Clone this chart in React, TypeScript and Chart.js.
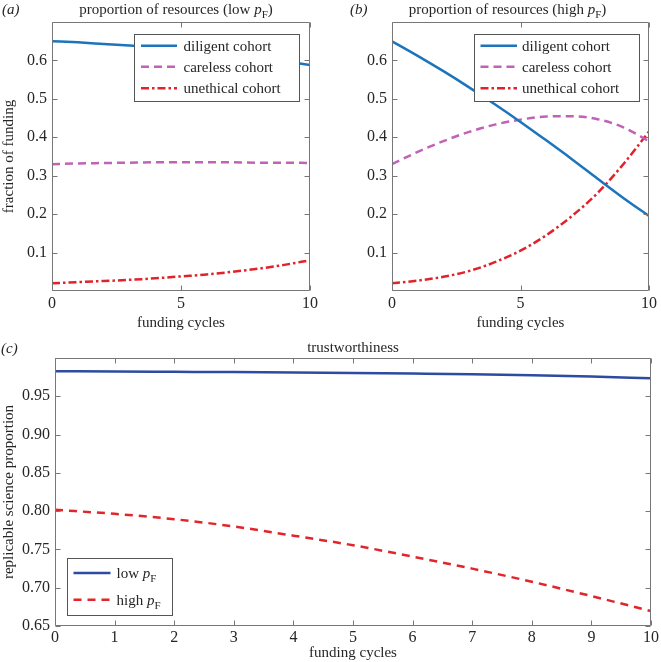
import React, { useEffect, useRef } from 'react';
import { Chart, registerables } from 'chart.js';
Chart.register(...registerables);

// ---------------- data ----------------
const cycles = [0, 1, 2, 3, 4, 5, 6, 7, 8, 9, 10];

const lowDiligent = [0.650, 0.647, 0.643, 0.639, 0.634, 0.628, 0.622, 0.615, 0.607, 0.598, 0.588];
const lowCareless = [0.330, 0.332, 0.333, 0.334, 0.335, 0.335, 0.335, 0.335, 0.334, 0.334, 0.333];
const lowUnethical = [0.020, 0.023, 0.026, 0.029, 0.033, 0.038, 0.043, 0.050, 0.058, 0.068, 0.080];

const highDiligent = [0.650, 0.612, 0.572, 0.530, 0.486, 0.440, 0.392, 0.343, 0.292, 0.242, 0.195];
const highCareless = [0.330, 0.362, 0.390, 0.414, 0.433, 0.446, 0.454, 0.455, 0.447, 0.426, 0.390];
const highUnethical = [0.020, 0.027, 0.037, 0.052, 0.075, 0.105, 0.145, 0.195, 0.255, 0.330, 0.415];

const trustLow = [0.9827, 0.9824, 0.9820, 0.9816, 0.9811, 0.9805, 0.9797, 0.9788, 0.9775, 0.9758, 0.9736];
const trustHigh = [0.8017, 0.7965, 0.7895, 0.7800, 0.7680, 0.7555, 0.7406, 0.7249, 0.7078, 0.6891, 0.6695];

const resourceXTicks = [0, 5, 10];
const resourceYTicks = [0.1, 0.2, 0.3, 0.4, 0.5, 0.6];
const trustXTicks = [0, 1, 2, 3, 4, 5, 6, 7, 8, 9, 10];
const trustYTicks = [0.65, 0.7, 0.75, 0.8, 0.85, 0.9, 0.95, 1.0];

const cohortLabels = ['diligent cohort', 'careless cohort', 'unethical cohort'];

// ---------------- style ----------------
const SERIF = '"Liberation Serif", "Times New Roman", Times, serif';
const TEXT = '#262626';
const AXIS = '#777777';
const C_DILIGENT = '#1C75BC';
const C_CARELESS = '#C062B6';
const C_UNETHICAL = '#E0232B';
const C_LOW = '#2D4BA0';
const C_HIGH = '#E0252B';
const DASH_CARELESS = [8, 5];
const DASH_UNETHICAL = [8, 3, 2.5, 3];
const DASH_HIGH = [8, 6];

type Seg = { t: string; i?: boolean; sub?: boolean };

function segFont(s: Seg, size: number) {
  const sz = s.sub ? Math.round(size * 0.72) : size;
  return `${s.i ? 'italic ' : ''}${sz}px ${SERIF}`;
}

function drawRich(ctx: CanvasRenderingContext2D, segs: Seg[], x: number, y: number, size: number, align: 'left' | 'center') {
  ctx.save();
  ctx.textBaseline = 'alphabetic';
  ctx.textAlign = 'left';
  ctx.fillStyle = TEXT;
  let w = 0;
  for (const s of segs) {
    ctx.font = segFont(s, size);
    w += ctx.measureText(s.t).width;
  }
  let cx = align === 'center' ? x - w / 2 : x;
  for (const s of segs) {
    ctx.font = segFont(s, size);
    ctx.fillText(s.t, cx, s.sub ? y + size * 0.28 : y);
    cx += ctx.measureText(s.t).width;
  }
  ctx.restore();
}

const series = (arr: number[]) => cycles.map((c, i) => ({ x: c, y: arr[i] }));

const boxPlugin = {
  id: 'matlabBox',
  afterDatasetsDraw(chart: any) {
    const { ctx, chartArea } = chart;
    const xs = chart.scales.x;
    const ys = chart.scales.y;
    const L = Math.round(chartArea.left) + 0.5;
    const R = Math.round(chartArea.right) - 0.5;
    const T = Math.round(chartArea.top) + 0.5;
    const B = Math.round(chartArea.bottom) - 0.5;
    ctx.save();
    ctx.strokeStyle = AXIS;
    ctx.lineWidth = 1;
    ctx.setLineDash([]);
    ctx.beginPath();
    ctx.rect(L, T, R - L, B - T);
    const tl = 5;
    xs.ticks.forEach((t: any) => {
      const px = Math.round(xs.getPixelForValue(t.value)) + 0.5;
      ctx.moveTo(px, B);
      ctx.lineTo(px, B - tl);
      ctx.moveTo(px, T);
      ctx.lineTo(px, T + tl);
    });
    ys.ticks.forEach((t: any) => {
      const py = Math.round(ys.getPixelForValue(t.value)) + 0.5;
      ctx.moveTo(L, py);
      ctx.lineTo(L + tl, py);
      ctx.moveTo(R, py);
      ctx.lineTo(R - tl, py);
    });
    ctx.stroke();
    ctx.restore();
  },
};

type LegendCfg = {
  anchor: 'topRight' | 'bottomLeft';
  dx: number;
  dy: number;
  w: number;
  h: number;
  lineInset: number;
  lineLen: number;
  textInset: number;
  rowOffsets: number[];
  items: Seg[][];
};

type DecorCfg = {
  panel: string;
  panelX: number;
  panelY: number;
  title: Seg[];
  titleDx: number;
  titleY: number;
  legend: LegendCfg;
};

function decorPlugin(cfg: DecorCfg) {
  return {
    id: 'decor',
    afterDraw(chart: any) {
      const { ctx, chartArea } = chart;
      drawRich(ctx, [{ t: cfg.panel, i: true }], cfg.panelX, cfg.panelY, 15, 'left');
      const cx = (chartArea.left + chartArea.right) / 2 + cfg.titleDx;
      drawRich(ctx, cfg.title, cx, cfg.titleY, 15, 'center');
      const lg = cfg.legend;
      const bx = lg.anchor === 'topRight' ? chartArea.right - lg.dx - lg.w : chartArea.left + lg.dx;
      const by = lg.anchor === 'topRight' ? chartArea.top + lg.dy : chartArea.bottom - lg.dy - lg.h;
      ctx.save();
      ctx.fillStyle = '#ffffff';
      ctx.fillRect(bx, by, lg.w, lg.h);
      ctx.strokeStyle = '#555555';
      ctx.lineWidth = 1;
      ctx.setLineDash([]);
      ctx.strokeRect(Math.round(bx) + 0.5, Math.round(by) + 0.5, lg.w, lg.h);
      lg.items.forEach((segs, i) => {
        const ds = chart.data.datasets[i];
        const ry = by + lg.rowOffsets[i];
        ctx.save();
        ctx.strokeStyle = ds.borderColor;
        ctx.lineWidth = ds.borderWidth || 2.5;
        ctx.setLineDash(ds.borderDash || []);
        ctx.beginPath();
        ctx.moveTo(bx + lg.lineInset, ry);
        ctx.lineTo(bx + lg.lineInset + lg.lineLen, ry);
        ctx.stroke();
        ctx.restore();
        drawRich(ctx, segs, bx + lg.textInset, ry + 5, 15, 'left');
      });
      ctx.restore();
    },
  };
}

const tickFont = { family: SERIF, size: 16 };
const titleFont = { family: SERIF, size: 15 };

function resourceConfig(kind: 'low' | 'high', yWidth: number, padRight: number, decor: DecorCfg) {
  const dil = kind === 'low' ? lowDiligent : highDiligent;
  const car = kind === 'low' ? lowCareless : highCareless;
  const une = kind === 'low' ? lowUnethical : highUnethical;
  return {
    type: 'line' as const,
    data: {
      datasets: [
        { label: cohortLabels[0], data: series(dil), borderColor: C_DILIGENT, borderWidth: 2.5, borderDash: [] },
        { label: cohortLabels[1], data: series(car), borderColor: C_CARELESS, borderWidth: 2.5, borderDash: DASH_CARELESS },
        { label: cohortLabels[2], data: series(une), borderColor: C_UNETHICAL, borderWidth: 2.5, borderDash: DASH_UNETHICAL },
      ],
    },
    options: {
      responsive: false,
      animation: false as const,
      devicePixelRatio: 1,
      layout: { padding: { top: 22, right: padRight, left: 0, bottom: 0 } },
      plugins: { legend: { display: false }, tooltip: { enabled: false }, title: { display: false } },
      elements: { point: { radius: 0 }, line: { cubicInterpolationMode: 'monotone' as const, fill: false } },
      scales: {
        x: {
          type: 'linear' as const,
          min: 0,
          max: 10,
          afterBuildTicks: (s: any) => { s.ticks = resourceXTicks.map((v) => ({ value: v })); },
          afterFit: (s: any) => { s.height = 44; },
          ticks: { font: tickFont, color: TEXT, padding: 3, maxRotation: 0, autoSkip: false, callback: (v: any) => String(v) },
          grid: { display: false, drawTicks: false },
          border: { display: false },
          title: { display: true, text: 'funding cycles', font: titleFont, color: TEXT, padding: { top: 0, bottom: 3 } },
        },
        y: {
          type: 'linear' as const,
          min: 0,
          max: 0.7,
          afterBuildTicks: (s: any) => { s.ticks = resourceYTicks.map((v) => ({ value: v })); },
          afterFit: (s: any) => { s.width = yWidth; },
          ticks: { font: tickFont, color: TEXT, padding: 5, callback: (v: any) => Number(v).toFixed(1) },
          grid: { display: false, drawTicks: false },
          border: { display: false },
          title: kind === 'low'
            ? { display: true, text: 'fraction of funding', font: titleFont, color: TEXT, padding: { top: 0, bottom: 0 } }
            : { display: false },
        },
      },
    },
    plugins: [boxPlugin, decorPlugin(decor)],
  };
}

function trustConfig() {
  const decor: DecorCfg = {
    panel: '(c)',
    panelX: 1,
    panelY: 18,
    title: [{ t: 'trustworthiness' }],
    titleDx: 0,
    titleY: 17,
    legend: {
      anchor: 'bottomLeft',
      dx: 12,
      dy: 11,
      w: 105,
      h: 57,
      lineInset: 6.5,
      lineLen: 37,
      textInset: 49.5,
      rowOffsets: [15, 41.7],
      items: [
        [{ t: 'low ' }, { t: 'p', i: true }, { t: 'F', sub: true }],
        [{ t: 'high ' }, { t: 'p', i: true }, { t: 'F', sub: true }],
      ],
    },
  };
  return {
    type: 'line' as const,
    data: {
      datasets: [
        { label: 'low pF', data: series(trustLow), borderColor: C_LOW, borderWidth: 2.5, borderDash: [] },
        { label: 'high pF', data: series(trustHigh), borderColor: C_HIGH, borderWidth: 2.5, borderDash: DASH_HIGH },
      ],
    },
    options: {
      responsive: false,
      animation: false as const,
      devicePixelRatio: 1,
      layout: { padding: { top: 23, right: 9, left: 0, bottom: 0 } },
      plugins: { legend: { display: false }, tooltip: { enabled: false }, title: { display: false } },
      elements: { point: { radius: 0 }, line: { cubicInterpolationMode: 'monotone' as const, fill: false } },
      scales: {
        x: {
          type: 'linear' as const,
          min: 0,
          max: 10,
          afterBuildTicks: (s: any) => { s.ticks = trustXTicks.map((v) => ({ value: v })); },
          afterFit: (s: any) => { s.height = 36; },
          ticks: { font: tickFont, color: TEXT, padding: 2, maxRotation: 0, autoSkip: false, callback: (v: any) => String(v) },
          grid: { display: false, drawTicks: false },
          border: { display: false },
          title: { display: true, text: 'funding cycles', font: titleFont, color: TEXT, padding: { top: 0, bottom: 0 } },
        },
        y: {
          type: 'linear' as const,
          min: 0.65,
          max: 1.0,
          afterBuildTicks: (s: any) => { s.ticks = trustYTicks.map((v) => ({ value: v })); },
          afterFit: (s: any) => { s.width = 55; },
          ticks: {
            font: tickFont,
            color: TEXT,
            padding: 5,
            callback: (v: any) => (Number(v) > 0.99 ? '' : Number(v).toFixed(2)),
          },
          grid: { display: false, drawTicks: false },
          border: { display: false },
          title: { display: true, text: 'replicable science proportion', font: titleFont, color: TEXT, padding: { top: 0, bottom: 0 } },
        },
      },
    },
    plugins: [boxPlugin, decorPlugin(decor)],
  };
}

const cohortLegend = (): Seg[][] => cohortLabels.map((l) => [{ t: l }]);

function PanelChart(props: { left: number; top: number; width: number; height: number; make: () => any }) {
  const ref = useRef<HTMLCanvasElement>(null);
  useEffect(() => {
    const chart = new Chart(ref.current as HTMLCanvasElement, props.make());
    return () => chart.destroy();
  }, []);
  return (
    <canvas
      ref={ref}
      width={props.width}
      height={props.height}
      style={{ position: 'absolute', left: props.left, top: props.top, width: props.width, height: props.height }}
    />
  );
}

export default function App() {
  const makeA = () =>
    resourceConfig('low', 52, 20, {
      panel: '(a)',
      panelX: 2,
      panelY: 14,
      title: [{ t: 'proportion of resources (low ' }, { t: 'p', i: true }, { t: 'F', sub: true }, { t: ')' }],
      titleDx: -5,
      titleY: 14,
      legend: {
        anchor: 'topRight',
        dx: 11,
        dy: 12,
        w: 165,
        h: 67,
        lineInset: 7,
        lineLen: 36,
        textInset: 49.5,
        rowOffsets: [11.7, 32.7, 54.3],
        items: cohortLegend(),
      },
    });
  const makeB = () =>
    resourceConfig('high', 62, 12, {
      panel: '(b)',
      panelX: 20,
      panelY: 14,
      title: [{ t: 'proportion of resources (high ' }, { t: 'p', i: true }, { t: 'F', sub: true }, { t: ')' }],
      titleDx: -13,
      titleY: 14,
      legend: {
        anchor: 'topRight',
        dx: 10,
        dy: 12,
        w: 165,
        h: 67,
        lineInset: 6.5,
        lineLen: 36.5,
        textInset: 48,
        rowOffsets: [11.7, 32.7, 54.3],
        items: cohortLegend(),
      },
    });
  return (
    <div style={{ position: 'fixed', left: 0, top: 0, width: 661, height: 662, background: '#ffffff', overflow: 'hidden' }}>
      <PanelChart left={0} top={0} width={330} height={335} make={makeA} />
      <PanelChart left={330} top={0} width={331} height={335} make={makeB} />
      <PanelChart left={0} top={335} width={661} height={327} make={trustConfig} />
    </div>
  );
}
